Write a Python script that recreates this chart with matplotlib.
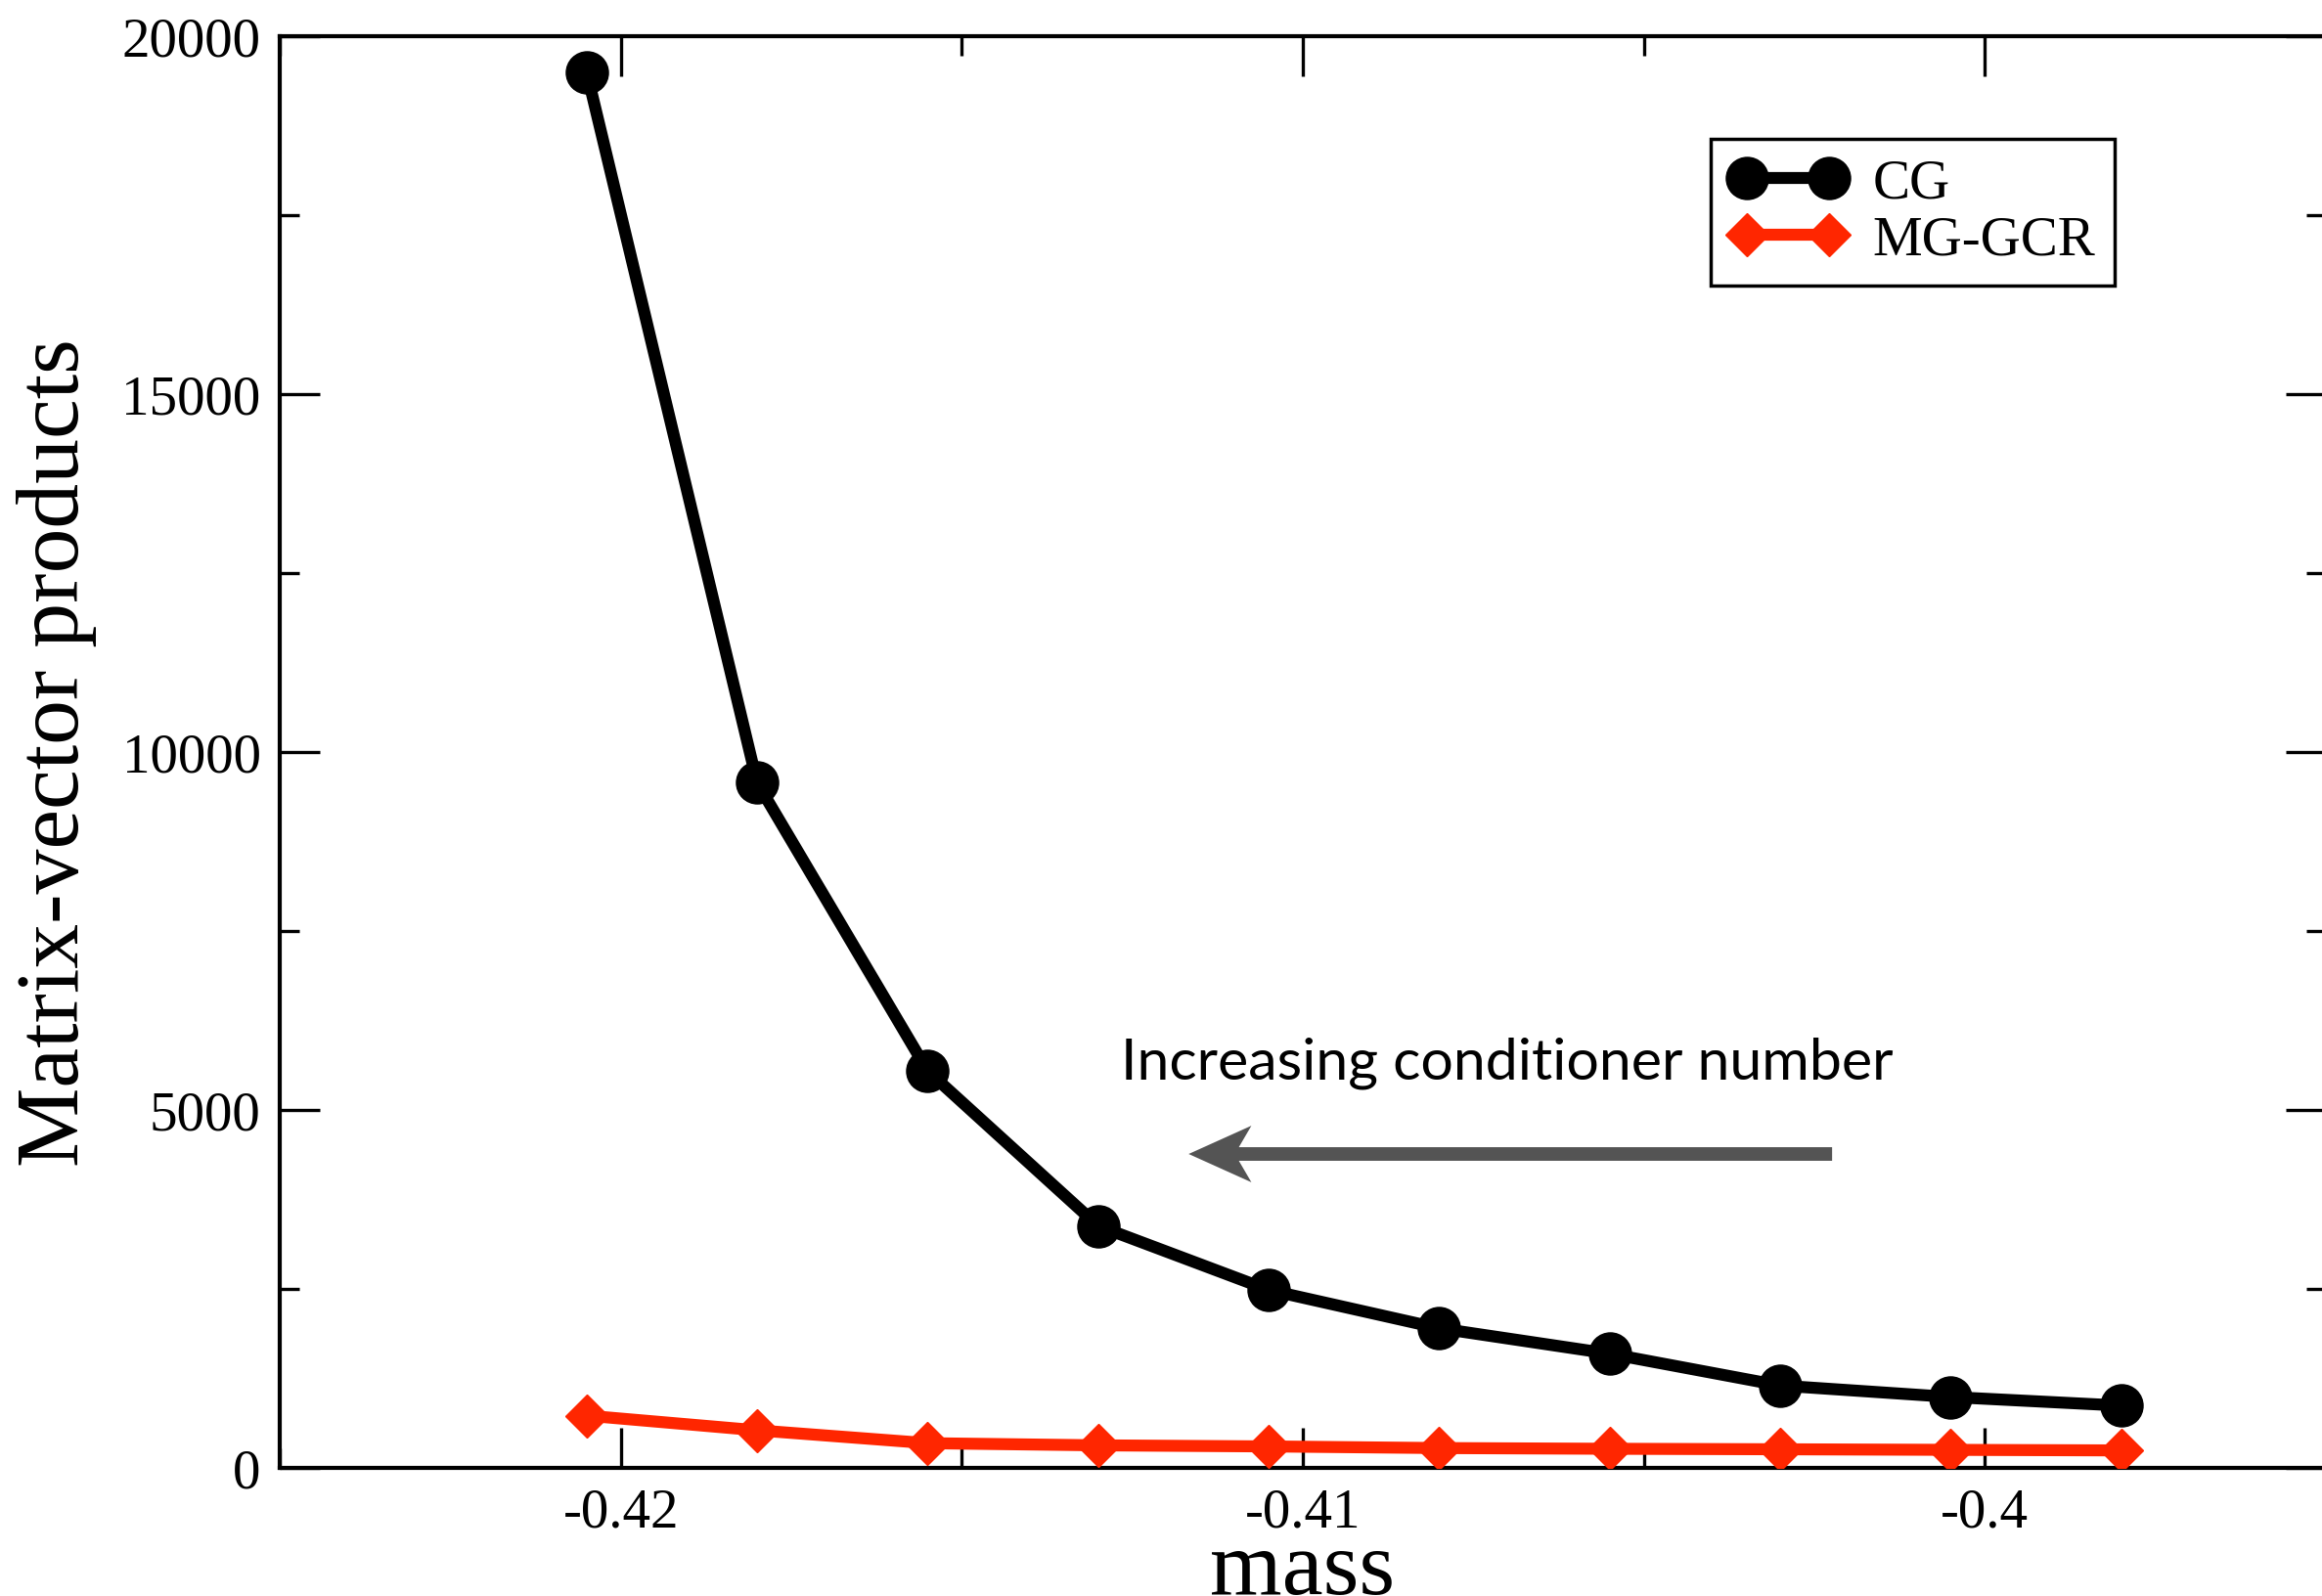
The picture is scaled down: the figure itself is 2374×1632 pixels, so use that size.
import matplotlib
matplotlib.use('Agg')
import matplotlib.pyplot as plt
from matplotlib.patches import FancyArrow
from matplotlib.ticker import FixedLocator, FixedFormatter

plt.rcParams['font.family'] = ['Liberation Serif', 'DejaVu Serif']
plt.rcParams['axes.unicode_minus'] = False

# data
mass = [-0.4205, -0.418, -0.4155, -0.413, -0.4105, -0.408, -0.4055, -0.403, -0.4005, -0.398]
cg = [19500, 9570, 5545, 3380, 2485, 1950, 1595, 1150, 990, 870]
mg_gcr = [730, 525, 345, 315, 300, 277, 267, 260, 252, 244]

x_major = [-0.42, -0.41, -0.40]
x_major_labels = ['-0.42', '-0.41', '-0.4']
x_minor = [-0.425, -0.415, -0.405, -0.395]
y_major = [0, 5000, 10000, 15000, 20000]
y_major_labels = ['0', '5000', '10000', '15000', '20000']
y_minor = [2500, 7500, 12500, 17500]

W, H = 2374, 1633
fig = plt.figure(figsize=(W / 100, H / 100), dpi=100)
# axes frame: right edge sits just past the picture edge, as in the original
ax = fig.add_axes([286 / W, (H - 1502) / H, (2378 - 286) / W, 1464 / H])

ax.plot(mass, cg, color='black', lw=8.8, marker='o', ms=31,
        markeredgewidth=1, label='CG', zorder=3)
ax.plot(mass, mg_gcr, color='#ff2600', lw=8.8, marker='D', ms=22,
        markeredgewidth=1, label='MG-GCR', zorder=3)

ax.set_xlim(-0.425, -0.395)
ax.set_ylim(0, 20000)

ax.xaxis.set_major_locator(FixedLocator(x_major))
ax.xaxis.set_major_formatter(FixedFormatter(x_major_labels))
ax.xaxis.set_minor_locator(FixedLocator(x_minor))
ax.yaxis.set_major_locator(FixedLocator(y_major))
ax.yaxis.set_major_formatter(FixedFormatter(y_major_labels))
ax.yaxis.set_minor_locator(FixedLocator(y_minor))

ax.tick_params(which='both', direction='in', top=True, right=True,
               width=2.4, labelsize=41, pad=14)
ax.tick_params(which='major', length=29.5)
ax.tick_params(which='minor', length=14.4)
for sp in ax.spines.values():
    sp.set_linewidth(3)

ax.set_xlabel('mass', fontsize=68, labelpad=-6)
ax.set_ylabel('Matrix-vector products', fontsize=66, labelpad=18)

leg = ax.legend(loc='upper left', bbox_to_anchor=(0.6993, 0.9283),
                borderaxespad=0, fontsize=41, numpoints=2, handlelength=2.07,
                handletextpad=0.49, labelspacing=0.1, borderpad=0.35,
                fancybox=False, edgecolor='black', framealpha=1)
leg.get_frame().set_linewidth(2.5)

# annotation: arrow pointing towards smaller mass
ax.text(-0.41267, 5667, 'Increasing conditioner number', ha='left', va='center',
        fontsize=42.6, family=['Lato', 'DejaVu Sans'])
tail_x, head_x, arrow_y = -0.40224, -0.411674, 4385
ax.add_patch(FancyArrow(tail_x, arrow_y, head_x - tail_x, 0, width=190,
                        head_width=790, head_length=0.00092, overhang=0.2,
                        length_includes_head=True, color='#545454', lw=0))

fig.savefig('out.png', dpi=100)
